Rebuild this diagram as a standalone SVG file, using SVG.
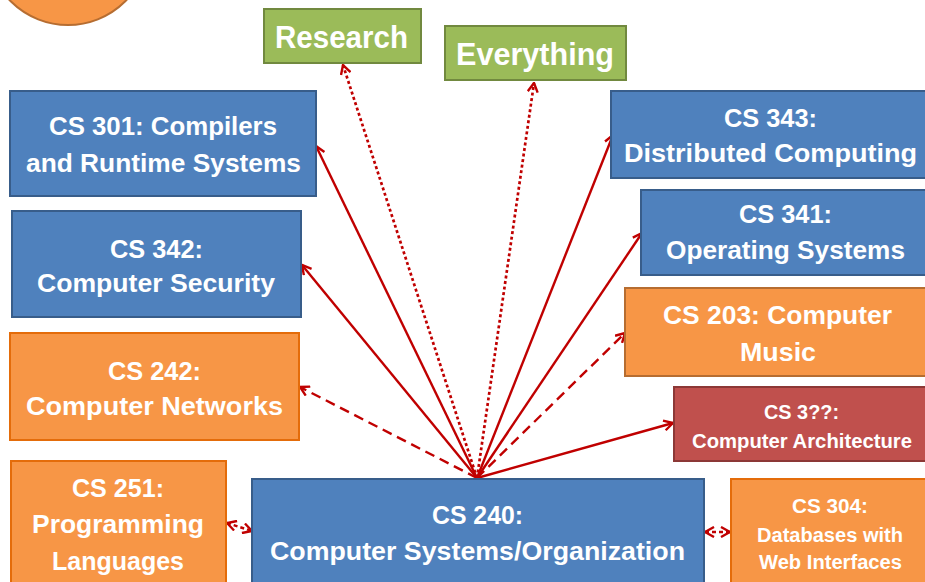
<svg xmlns="http://www.w3.org/2000/svg" width="925" height="582" viewBox="0 0 925 582">
<style>
.t{font-family:"Liberation Sans",Arial,sans-serif;font-weight:bold;fill:#ffffff;font-size:25px}
.big{font-size:32px}
.sm{font-size:21px}
.xs{font-size:19.5px}
.blue{fill:#4F81BD;stroke:#385D8A;stroke-width:2}
.org{fill:#F79646;stroke:#E46C0A;stroke-width:2}
.org2{fill:#F79646;stroke:#B66D31;stroke-width:2}
.red{fill:#C0504D;stroke:#8C3836;stroke-width:2}
.grn{fill:#9BBB59;stroke:#71893F;stroke-width:2}
.c{fill:none;stroke:#C00000;stroke-width:2.4;marker-end:url(#ah)}
.dot{stroke-dasharray:3 2.6;stroke-width:2.7}
.dash{stroke-dasharray:10 6}
.sd{stroke-dasharray:4 3;marker-start:url(#ah)}
</style>
<defs>
<marker id="ah" markerUnits="userSpaceOnUse" viewBox="0 0 12 12" markerWidth="12" markerHeight="12" refX="11" refY="6" orient="auto-start-reverse">
<path d="M2,1 L11,6 L2,11" fill="none" stroke="#C00000" stroke-width="2.4"/>
</marker>
</defs>
<rect width="925" height="582" fill="#ffffff"/>
<g id="circle"><circle cx="68" cy="-56" r="81" class="org2"/></g>
<g id="connectors">
<line class="c" x1="477" y1="478" x2="316" y2="146"/>
<line class="c dot" x1="477" y1="478" x2="343" y2="65"/>
<line class="c dot" x1="477" y1="478" x2="534" y2="83"/>
<line class="c" x1="477" y1="478" x2="613" y2="135"/>
<line class="c" x1="477" y1="478" x2="642" y2="233"/>
<line class="c" x1="477" y1="478" x2="302" y2="265"/>
<line class="c dash" x1="477" y1="478" x2="300" y2="387"/>
<line class="c dash" x1="477" y1="478" x2="625" y2="333"/>
<line class="c" x1="477" y1="478" x2="673" y2="423"/>
<line class="c sd" x1="227" y1="523" x2="252" y2="531"/>
<line class="c sd" x1="705" y1="532" x2="730" y2="532"/>
</g>
<g id="research"><rect x="264" y="9" width="157" height="54" class="grn"/><text class="t big" x="275" y="48" textLength="133" lengthAdjust="spacingAndGlyphs">Research</text></g>
<g id="everything"><rect x="445" y="26" width="181" height="54" class="grn"/><text class="t big" x="456" y="65" textLength="158" lengthAdjust="spacingAndGlyphs">Everything</text></g>
<g id="cs301"><rect x="10" y="91" width="306" height="105" class="blue"/>
<text class="t" x="49" y="135" textLength="228" lengthAdjust="spacingAndGlyphs">CS 301: Compilers</text>
<text class="t" x="26" y="172" textLength="275" lengthAdjust="spacingAndGlyphs">and Runtime Systems</text></g>
<g id="cs342"><rect x="12" y="211" width="289" height="106" class="blue"/>
<text class="t" x="110" y="258" textLength="93" lengthAdjust="spacingAndGlyphs">CS 342:</text>
<text class="t" x="37" y="292" textLength="238" lengthAdjust="spacingAndGlyphs">Computer Security</text></g>
<g id="cs242"><rect x="10" y="333" width="289" height="107" class="org"/>
<text class="t" x="108" y="380" textLength="93" lengthAdjust="spacingAndGlyphs">CS 242:</text>
<text class="t" x="26" y="415" textLength="257" lengthAdjust="spacingAndGlyphs">Computer Networks</text></g>
<g id="cs251"><rect x="11" y="461" width="215" height="135" class="org"/>
<text class="t" x="72" y="497" textLength="92" lengthAdjust="spacingAndGlyphs">CS 251:</text>
<text class="t" x="32" y="533" textLength="172" lengthAdjust="spacingAndGlyphs">Programming</text>
<text class="t" x="52" y="570" textLength="132" lengthAdjust="spacingAndGlyphs">Languages</text></g>
<g id="cs240"><rect x="252" y="479" width="452" height="120" class="blue"/>
<text class="t" x="432" y="524" textLength="91" lengthAdjust="spacingAndGlyphs">CS 240:</text>
<text class="t" x="270" y="560" textLength="415" lengthAdjust="spacingAndGlyphs">Computer Systems/Organization</text></g>
<g id="cs343"><rect x="611" y="91" width="330" height="87" class="blue"/>
<text class="t" x="724" y="127" textLength="93" lengthAdjust="spacingAndGlyphs">CS 343:</text>
<text class="t" x="624" y="162" textLength="293" lengthAdjust="spacingAndGlyphs">Distributed Computing</text></g>
<g id="cs341"><rect x="641" y="190" width="300" height="85" class="blue"/>
<text class="t" x="739" y="223" textLength="93" lengthAdjust="spacingAndGlyphs">CS 341:</text>
<text class="t" x="666" y="259" textLength="239" lengthAdjust="spacingAndGlyphs">Operating Systems</text></g>
<g id="cs203"><rect x="625" y="288" width="320" height="88" class="org2"/>
<text class="t" x="663" y="324" textLength="229" lengthAdjust="spacingAndGlyphs">CS 203: Computer</text>
<text class="t" x="740" y="361" textLength="76" lengthAdjust="spacingAndGlyphs">Music</text></g>
<g id="cs3xx"><rect x="674" y="387" width="270" height="74" class="red"/>
<text class="t sm" x="764" y="419" textLength="75" lengthAdjust="spacingAndGlyphs">CS 3??:</text>
<text class="t xs" x="692" y="448" textLength="220" lengthAdjust="spacingAndGlyphs">Computer Architecture</text></g>
<g id="cs304"><rect x="731" y="479" width="210" height="120" class="org"/>
<text class="t sm" x="792" y="513" textLength="76" lengthAdjust="spacingAndGlyphs">CS 304:</text>
<text class="t xs" x="757" y="542" textLength="146" lengthAdjust="spacingAndGlyphs">Databases with</text>
<text class="t xs" x="759" y="569" textLength="143" lengthAdjust="spacingAndGlyphs">Web Interfaces</text></g>
</svg>
